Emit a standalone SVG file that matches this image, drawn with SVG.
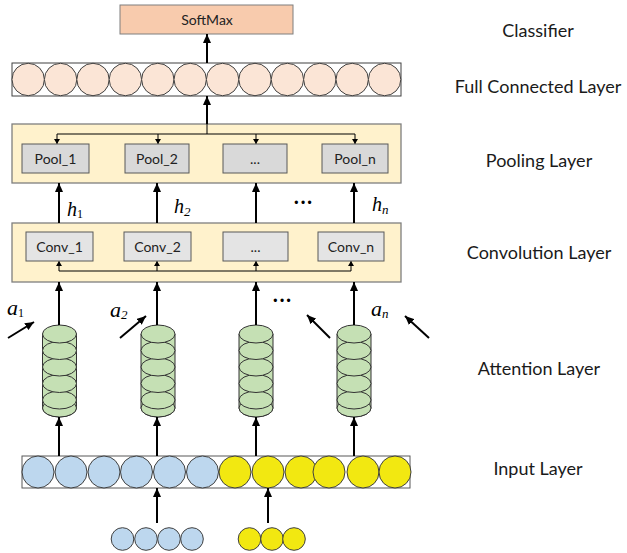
<svg xmlns="http://www.w3.org/2000/svg" width="627" height="553" viewBox="0 0 627 553">
  <defs>
    <style>
      .lbl { font-family: Lato, "Liberation Sans", sans-serif; font-size: 18px; fill: #1a1a1a; text-anchor: middle; }
      .box-t { font-family: Lato, "Liberation Sans", sans-serif; font-size: 14px; fill: #222; text-anchor: middle; }
      .math { font-family: "Liberation Serif", serif; font-style: italic; fill: #000; }
      .band { fill: #FFF2CC; stroke: #7f7f7f; stroke-width: 1.3; }
      .pool { fill: #D9D9D9; stroke: #595959; stroke-width: 1; }
      .conv { fill: #E4E4E4; stroke: #595959; stroke-width: 1; }
      .fc { fill: #FBE5D6; stroke: #404040; stroke-width: 1; }
      .blue { fill: #BDD7EE; stroke: #404040; stroke-width: 1; }
      .yellow { fill: #F2E811; stroke: #404040; stroke-width: 1; }
      .cyl { fill: #C5E0B4; stroke: #333; stroke-width: 1; }
      .arr { stroke: #000; stroke-width: 2; fill: none; marker-end: url(#head); }
      .thin { stroke: #000; stroke-width: 1; fill: none; }
      .thin-a { stroke: #000; stroke-width: 1; fill: none; marker-end: url(#small); }
      .dots { font-family: "Liberation Serif", serif; font-size: 20px; font-weight: bold; fill: #000; }
    </style>
    <marker id="head" markerUnits="userSpaceOnUse" markerWidth="10" markerHeight="8" refX="9" refY="4" orient="auto">
      <path d="M0,0 L9,4 L0,8 z" fill="#000"/>
    </marker>
    <marker id="small" markerUnits="userSpaceOnUse" markerWidth="6" markerHeight="6" refX="5" refY="3" orient="auto">
      <path d="M0,0 L5,3 L0,6 z" fill="#000"/>
    </marker>
    <g id="cylinder">
      <path class="cyl" d="M-17,334 L-17,408 A17,9 0 0 0 17,408 L17,334 z"/>
      <ellipse class="cyl" cx="0" cy="408" rx="17" ry="9"/>
      <ellipse class="cyl" cx="0" cy="400" rx="17" ry="9"/>
      <ellipse class="cyl" cx="0" cy="383.5" rx="17" ry="9"/>
      <ellipse class="cyl" cx="0" cy="367" rx="17" ry="9"/>
      <ellipse class="cyl" cx="0" cy="350.5" rx="17" ry="9"/>
      <ellipse class="cyl" cx="0" cy="334" rx="17" ry="9"/>
    </g>
  </defs>

  <rect width="627" height="553" fill="#fff"/>

  <!-- classifier -->
  <g id="softmax">
    <rect x="120" y="5" width="173" height="29" fill="#F8CBAD" stroke="#7f7f7f" stroke-width="1"/>
    <text class="box-t" x="207" y="25">SoftMax</text>
  </g>

  <!-- fully connected layer -->
  <g id="fc-layer">
    <rect x="12" y="63" width="389" height="33" fill="#fff" stroke="#404040" stroke-width="1"/>
    <circle class="fc" cx="28.2" cy="79.5" r="16.2"/>
    <circle class="fc" cx="60.6" cy="79.5" r="16.2"/>
    <circle class="fc" cx="93" cy="79.5" r="16.2"/>
    <circle class="fc" cx="125.4" cy="79.5" r="16.2"/>
    <circle class="fc" cx="157.8" cy="79.5" r="16.2"/>
    <circle class="fc" cx="190.2" cy="79.5" r="16.2"/>
    <circle class="fc" cx="222.6" cy="79.5" r="16.2"/>
    <circle class="fc" cx="255" cy="79.5" r="16.2"/>
    <circle class="fc" cx="287.4" cy="79.5" r="16.2"/>
    <circle class="fc" cx="319.8" cy="79.5" r="16.2"/>
    <circle class="fc" cx="352.2" cy="79.5" r="16.2"/>
    <circle class="fc" cx="384.6" cy="79.5" r="16.2"/>
  </g>

  <!-- pooling layer -->
  <g id="pooling-layer">
    <rect class="band" x="12" y="124" width="389" height="59"/>
    <path class="thin" d="M207,124 V134 M57,134 H355"/>
    <path class="thin-a" d="M57,134 V144"/>
    <path class="thin-a" d="M158,134 V144"/>
    <path class="thin-a" d="M256,134 V144"/>
    <path class="thin-a" d="M355,134 V144"/>
    <g id="pool-1"><rect class="pool" x="22" y="144" width="67" height="29"/><text class="box-t" x="55.5" y="164">Pool_1</text></g>
    <g id="pool-2"><rect class="pool" x="125" y="144" width="64" height="29"/><text class="box-t" x="157" y="164">Pool_2</text></g>
    <g id="pool-dots"><rect class="pool" x="223" y="144" width="64" height="29"/><text class="box-t" x="255" y="164">...</text></g>
    <g id="pool-n"><rect class="pool" x="322" y="144" width="66" height="29"/><text class="box-t" x="355" y="164">Pool_n</text></g>
  </g>

  <!-- convolution layer -->
  <g id="conv-layer">
    <rect class="band" x="12" y="223" width="389" height="59"/>
    <path class="thin" d="M59,271 H351"/>
    <path class="thin-a" d="M59,271 V261"/>
    <path class="thin-a" d="M157,271 V261"/>
    <path class="thin-a" d="M256,271 V261"/>
    <path class="thin-a" d="M351,271 V261"/>
    <g id="conv-1"><rect class="conv" x="26" y="232" width="67" height="29"/><text class="box-t" x="59.5" y="252">Conv_1</text></g>
    <g id="conv-2"><rect class="conv" x="124" y="232" width="67" height="29"/><text class="box-t" x="157.5" y="252">Conv_2</text></g>
    <g id="conv-dots"><rect class="conv" x="223" y="232" width="65" height="29"/><text class="box-t" x="255.5" y="252">...</text></g>
    <g id="conv-n"><rect class="conv" x="318" y="232" width="66" height="29"/><text class="box-t" x="351" y="252">Conv_n</text></g>
  </g>

  <!-- attention layer -->
  <g id="attention-1"><use href="#cylinder" x="59.5"/></g>
  <g id="attention-2"><use href="#cylinder" x="158"/></g>
  <g id="attention-3"><use href="#cylinder" x="256"/></g>
  <g id="attention-n"><use href="#cylinder" x="354"/></g>

  <!-- input layer -->
  <g id="input-layer">
    <rect x="22" y="456" width="388" height="32" fill="#fff" stroke="#595959" stroke-width="1"/>
    <circle class="blue" cx="38" cy="472" r="16"/>
    <circle class="blue" cx="71" cy="472" r="16"/>
    <circle class="blue" cx="104" cy="472" r="16"/>
    <circle class="blue" cx="136.5" cy="472" r="16"/>
    <circle class="blue" cx="169.5" cy="472" r="16"/>
    <circle class="blue" cx="202.5" cy="472" r="16"/>
    <circle class="yellow" cx="235" cy="472" r="16"/>
    <circle class="yellow" cx="268" cy="472" r="16"/>
    <circle class="yellow" cx="301" cy="472" r="16"/>
    <circle class="yellow" cx="329" cy="472" r="16"/>
    <circle class="yellow" cx="363" cy="472" r="16"/>
    <circle class="yellow" cx="395" cy="472" r="16"/>
  </g>

  <!-- source token groups -->
  <g id="source-blue">
    <circle class="blue" cx="122.5" cy="539" r="11.3"/>
    <circle class="blue" cx="146" cy="539" r="11.3"/>
    <circle class="blue" cx="169" cy="539" r="11.3"/>
    <circle class="blue" cx="192" cy="539" r="11.3"/>
  </g>
  <g id="source-yellow">
    <circle class="yellow" cx="249.5" cy="539" r="11.3"/>
    <circle class="yellow" cx="272" cy="539" r="11.3"/>
    <circle class="yellow" cx="294" cy="539" r="11.3"/>
  </g>

  <!-- connectors -->
  <g id="connectors">
    <path class="arr" d="M207,63 V34"/>
    <path class="arr" d="M207,124 V96"/>
    <path class="arr" d="M59,223 V183"/>
    <path class="arr" d="M157,223 V183"/>
    <path class="arr" d="M256,223 V183"/>
    <path class="arr" d="M354,223 V183"/>
    <path class="arr" d="M59,325 V282"/>
    <path class="arr" d="M157,325 V282"/>
    <path class="arr" d="M256,325 V282"/>
    <path class="arr" d="M354,325 V282"/>
    <path class="arr" d="M59,456 V417"/>
    <path class="arr" d="M157,456 V417"/>
    <path class="arr" d="M256,456 V417"/>
    <path class="arr" d="M354,456 V417"/>
    <path class="arr" d="M157,523 V488"/>
    <path class="arr" d="M268,523 V488"/>
    <path class="arr" d="M8,338 L34,322"/>
    <path class="arr" d="M120,338 L146,316"/>
    <path class="arr" d="M330,338 L307,315"/>
    <path class="arr" d="M429,338 L405,316"/>
  </g>

  <!-- symbols -->
  <g id="symbols">
    <text class="math" x="67" y="216" font-size="20">h<tspan font-size="12" font-style="normal" dy="2">1</tspan></text>
    <text class="math" x="174" y="213" font-size="20">h<tspan font-size="13" dy="3">2</tspan></text>
    <text class="math" x="372" y="211" font-size="20">h<tspan font-size="13" dy="3">n</tspan></text>
    <text class="dots" x="293" y="209">···</text>
    <text class="math" x="7" y="315" font-size="22">a<tspan font-size="12" font-style="normal" dy="2">1</tspan></text>
    <text class="math" x="110" y="317" font-size="22">a<tspan font-size="13" dy="2">2</tspan></text>
    <text class="dots" x="272" y="307">···</text>
    <text class="math" x="371" y="316" font-size="22">a<tspan font-size="13" dy="2">n</tspan></text>
  </g>

  <!-- layer names -->
  <g id="layer-names">
    <text class="lbl" x="538" y="37">Classifier</text>
    <text class="lbl" x="538" y="93">Full Connected Layer</text>
    <text class="lbl" x="539" y="167">Pooling Layer</text>
    <text class="lbl" x="539" y="259">Convolution Layer</text>
    <text class="lbl" x="539" y="375">Attention Layer</text>
    <text class="lbl" x="538" y="475">Input Layer</text>
  </g>
</svg>
